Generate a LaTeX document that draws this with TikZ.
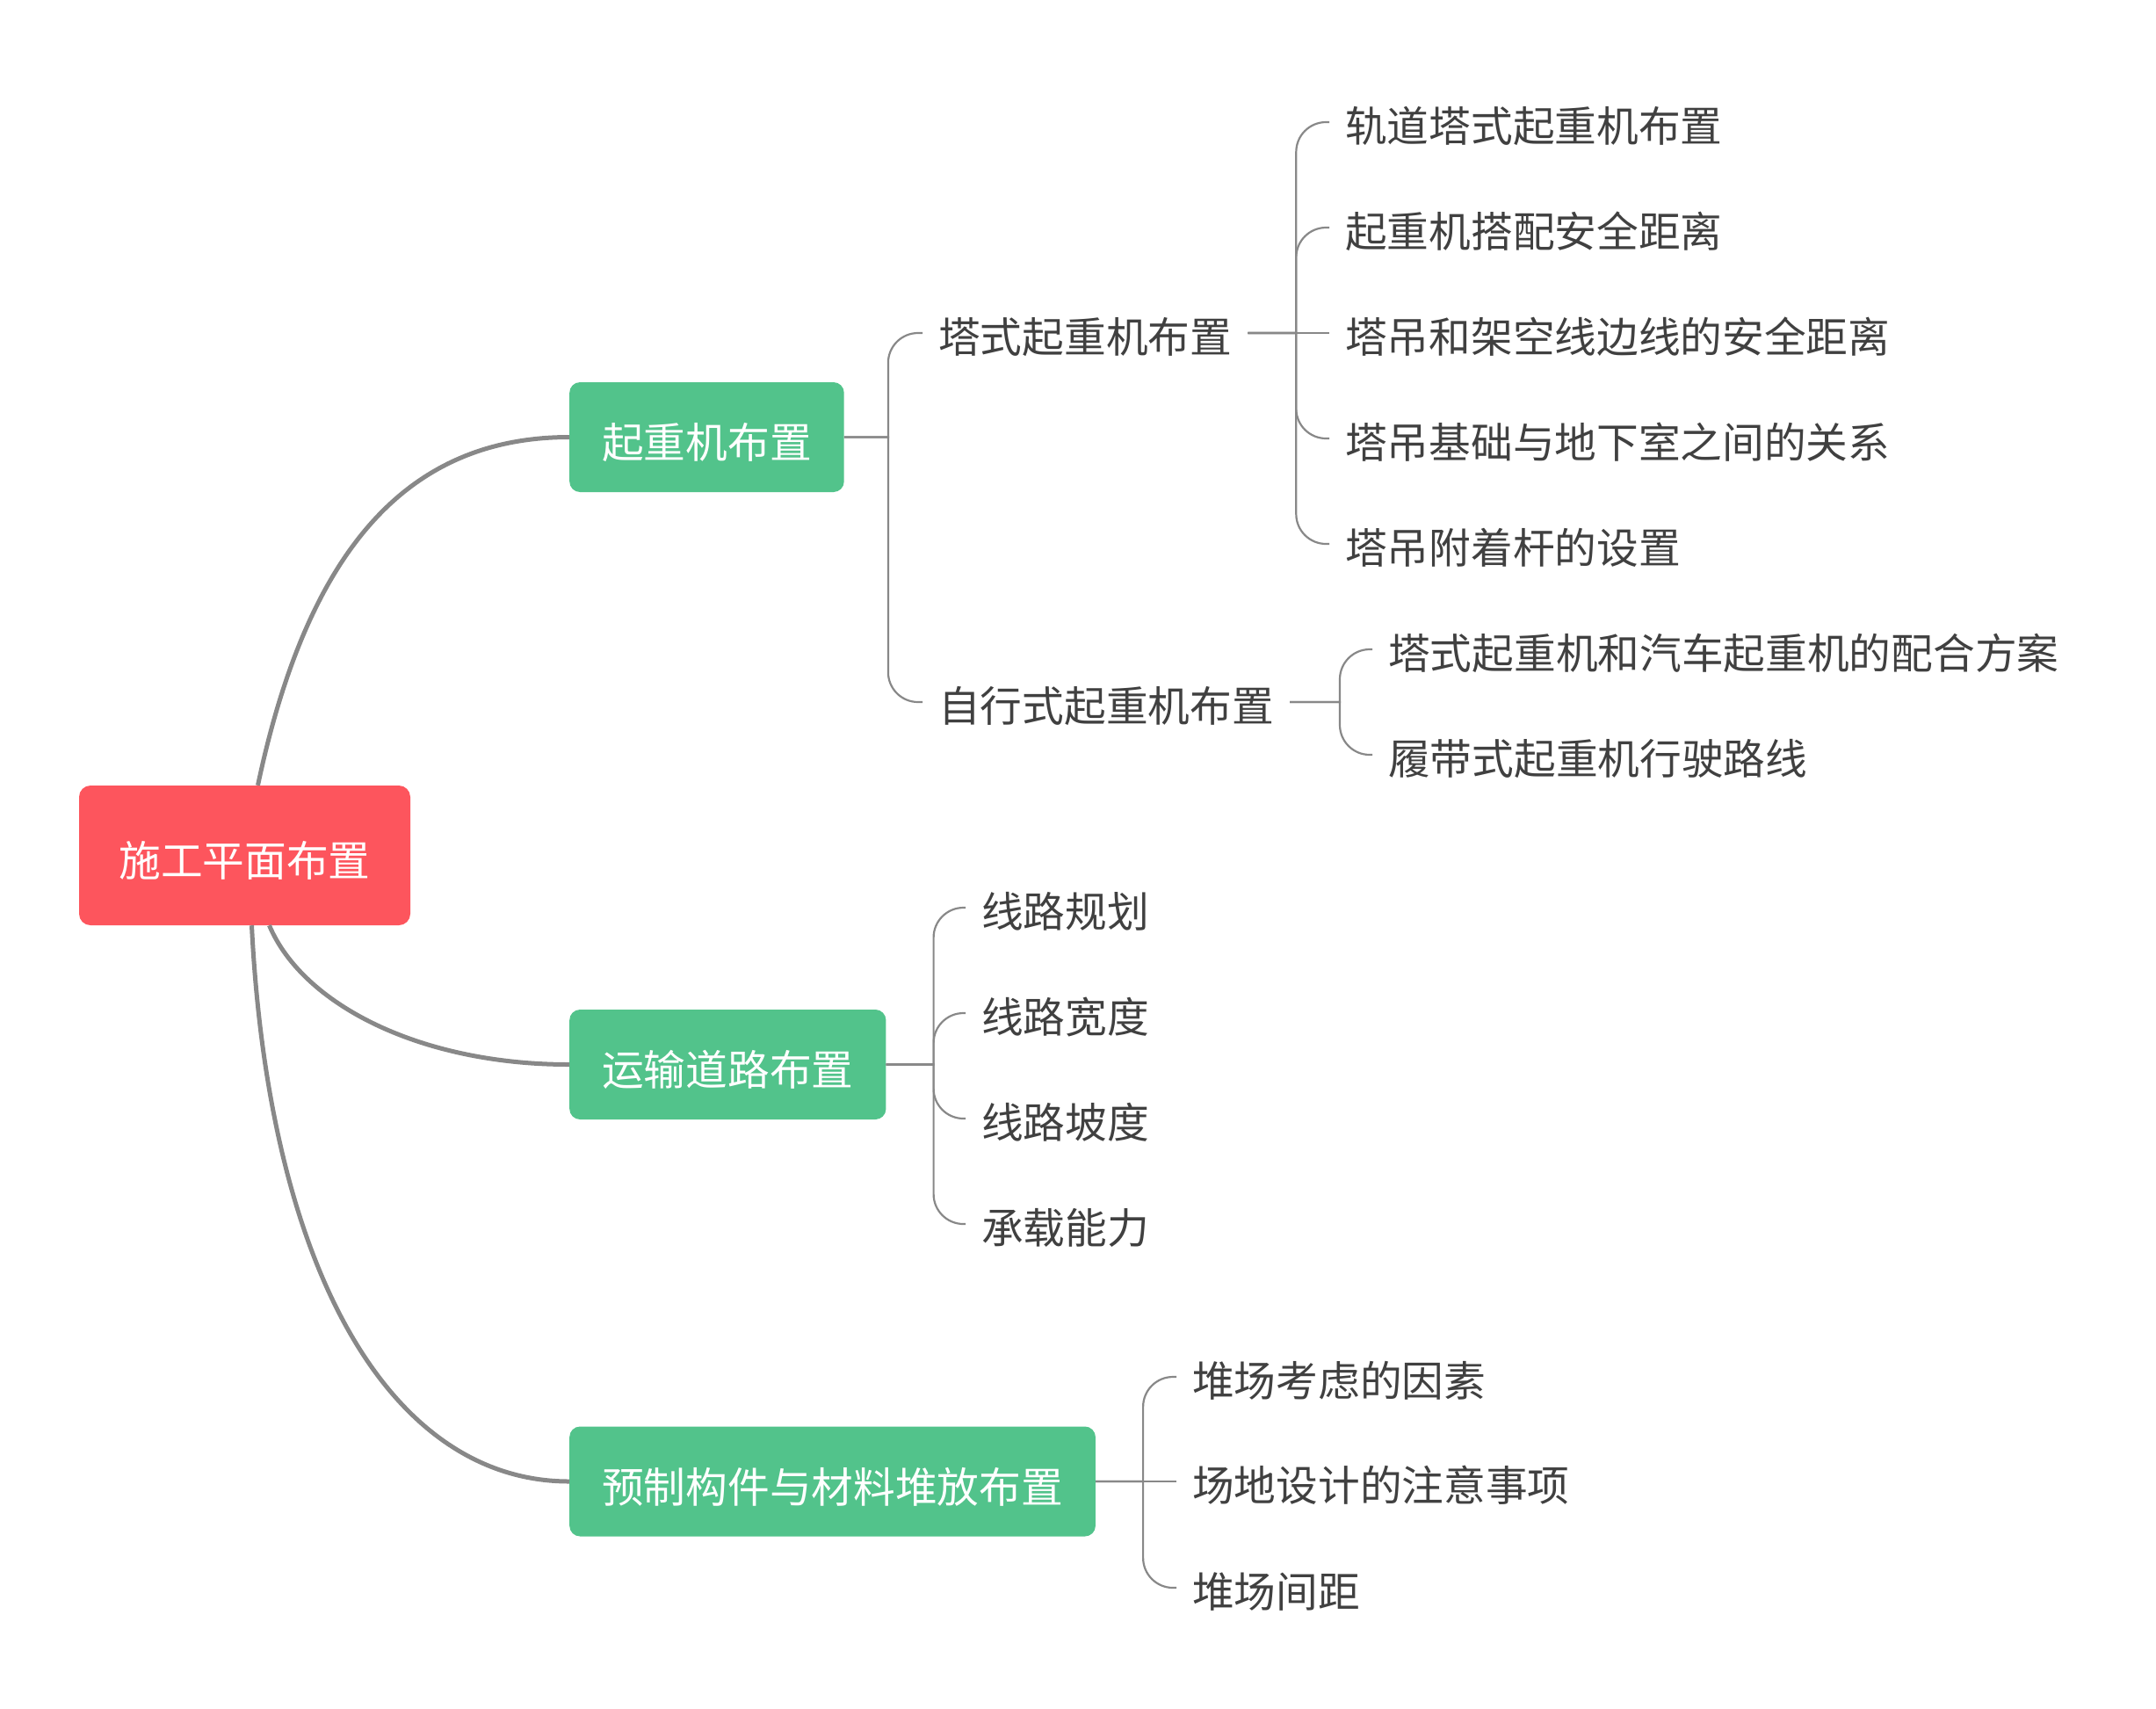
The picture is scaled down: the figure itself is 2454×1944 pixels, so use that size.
\documentclass[tikz,border=0pt]{standalone}
\usepackage{fontspec}
\setmainfont{Noto Sans CJK SC}
\definecolor{rootred}{HTML}{FD555D}
\definecolor{topicgreen}{HTML}{52C38B}
\definecolor{linegray}{HTML}{888888}
\definecolor{textgray}{HTML}{404040}
\begin{document}
\begin{tikzpicture}[x=1pt,y=-1pt,
  font=\fontsize{47.7pt}{57pt}\selectfont,
  rootbox/.style={fill=rootred, text=white, rounded corners=13pt, minimum width=377pt, minimum height=159pt, inner sep=0pt, text height=52.4pt, text depth=4pt},
  topicbox/.style={fill=topicgreen, text=white, rounded corners=12pt, minimum height=125pt, inner xsep=37pt, inner ysep=0pt, text height=52.4pt, text depth=4pt, anchor=west},
  leaf/.style={text=textgray, inner xsep=18pt, inner ysep=0pt, text height=48.4pt, text depth=4pt, anchor=west},
  mainline/.style={draw=linegray, line width=5pt},
  subline/.style={draw=linegray, line width=2.2pt},
  elbowround/.style={rounded corners=34pt},
]
\useasboundingbox (0,0) rectangle (2454,1944);

% root
\node[rootbox] (root) at (278.5,973.5) {施工平面布置};

% topics
\node[topicbox] (crane) at (648,497.5) {起重机布置};
\node[topicbox] (road) at (648,1211.5) {运输道路布置};
\node[topicbox] (store) at (648,1686) {预制构件与材料堆放布置};

% level 2 under crane
\node[leaf] (tower) at (1050,379) {塔式起重机布置};
\node[leaf] (mobile) at (1050,799) {自行式起重机布置};

% level 3 under tower
\node[leaf] (t1) at (1513,139) {轨道塔式起重机布置};
\node[leaf] (t2) at (1513,259) {起重机搭配安全距离};
\node[leaf] (t3) at (1513,379) {塔吊和架空线边线的安全距离};
\node[leaf] (t4) at (1513,499) {塔吊基础与地下室之间的关系};
\node[leaf] (t5) at (1513,619) {塔吊附着杆的设置};

% level 3 under mobile
\node[leaf] (m1) at (1562,739) {塔式起重机和汽车起重机的配合方案};
\node[leaf] (m2) at (1562,859) {履带式起重机行驶路线};

% under road
\node[leaf] (r1) at (1099,1033) {线路规划};
\node[leaf] (r2) at (1099,1153) {线路宽度};
\node[leaf] (r3) at (1099,1273) {线路坡度};
\node[leaf] (r4) at (1099,1393) {承载能力};

% under store
\node[leaf] (s1) at (1339,1567) {堆场考虑的因素};
\node[leaf] (s2) at (1339,1686) {场地设计的注意事项};
\node[leaf] (s3) at (1339,1807) {堆场间距};

% main connectors
\draw[mainline] ([xshift=15pt]root.north) .. controls +(55,-260) and +(-190,0) .. (crane.west);
\draw[mainline] ([xshift=28pt]root.south) .. controls +(38,90) and +(-170,0) .. (road.west);
\draw[mainline] ([xshift=8pt]root.south) .. controls +(20,400) and +(-200,0) .. (store.west);

% sub connectors
\foreach \c in {tower,mobile} \draw[subline] (crane.east) -- ++(50,0) [elbowround] |- (\c.west);
\foreach \c in {t1,t2,t4,t5} \draw[subline] (tower.east) -- ++(55,0) [elbowround] |- (\c.west);
\draw[subline] (tower.east) -- (t3.west);
\foreach \c in {m1,m2} \draw[subline] (mobile.east) -- ++(57,0) [elbowround] |- (\c.west);
\foreach \c in {r1,r2,r3,r4} \draw[subline] (road.east) -- ++(54,0) [elbowround] |- (\c.west);
\foreach \c in {s1,s3} \draw[subline] (store.east) -- ++(54,0) [elbowround] |- (\c.west);
\draw[subline] (store.east) -- (s2.west);
\end{tikzpicture}
\end{document}
